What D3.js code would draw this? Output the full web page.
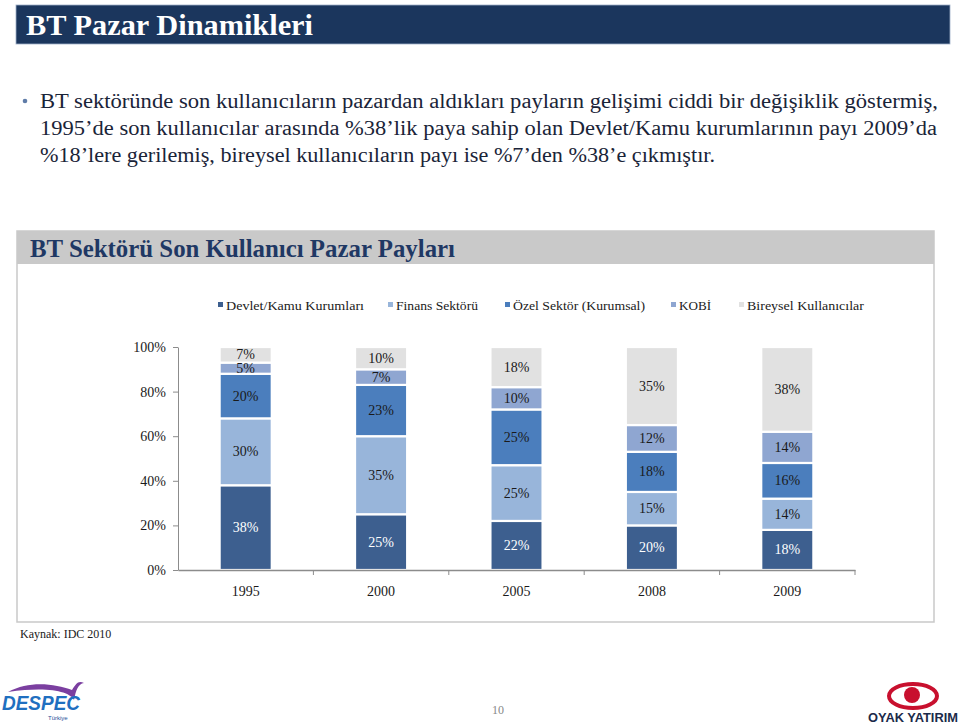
<!DOCTYPE html>
<html>
<head>
<meta charset="utf-8">
<script src="https://cdn.jsdelivr.net/npm/d3@7"></script>
<style>
html,body{margin:0;padding:0;background:#fff;}
svg{display:block;}
text{font-family:"Liberation Serif","Times New Roman",serif;}
text.sans{font-family:"Liberation Sans",Arial,sans-serif;}
</style>
</head>
<body>
<svg id="chart" width="960" height="724"></svg>
<script>
// ---- Data ----
const years = ["1995", "2000", "2005", "2008", "2009"];
const seriesNames = ["Devlet/Kamu Kurumları", "Finans Sektörü", "Özel Sektör (Kurumsal)", "KOBİ", "Bireysel Kullanıcılar"];
const devlet   = [38, 25, 22, 20, 18];
const finans   = [30, 35, 25, 15, 14];
const ozel     = [20, 23, 25, 18, 16];
const kobi     = [5, 7, 10, 12, 14];
const bireysel = [7, 10, 18, 35, 38];
const yTicks = [0, 20, 40, 60, 80, 100];

const pageTitle = "BT Pazar Dinamikleri";
const chartTitle = "BT Sektörü Son Kullanıcı Pazar Payları";
const bulletLines = [
  "BT sektöründe son kullanıcıların pazardan aldıkları payların gelişimi ciddi bir değişiklik göstermiş,",
  "1995’de son kullanıcılar arasında %38’lik paya sahip olan Devlet/Kamu kurumlarının payı 2009’da",
  "%18’lere gerilemiş, bireysel kullanıcıların payı ise %7’den %38’e çıkmıştır."
];
const source = "Kaynak: IDC 2010";

// ---- Styles ----
const colors = ["#3d5f8f", "#98b5da", "#4b7ebd", "#8fa6d1", "#e1e1e1"];
const labelColors = ["#ffffff", "#1a1a1a", "#1a1a1a", "#1a1a1a", "#1a1a1a"];

const svg = d3.select("#chart");

// Title bar
svg.append("rect").attr("x", 16).attr("y", 5).attr("width", 934).attr("height", 39)
  .attr("fill", "#1b365d").attr("stroke", "#9fb0c8").attr("stroke-width", 0.8);
svg.append("text").attr("x", 26).attr("y", 35).text(pageTitle)
  .attr("fill", "#fff").attr("font-size", 29).attr("font-weight", "bold")
  .attr("textLength", 287).attr("lengthAdjust", "spacingAndGlyphs");

// Bullet text
svg.append("circle").attr("cx", 25).attr("cy", 101).attr("r", 2.3).attr("fill", "#5f7ca8");
const bulletWidths = [898, 897, 675];
bulletLines.forEach((t, i) => {
  svg.append("text").attr("x", 40).attr("y", 108 + i * 27).text(t)
    .attr("fill", "#1a2438").attr("font-size", 20)
    .attr("textLength", bulletWidths[i]).attr("lengthAdjust", "spacingAndGlyphs");
});

// Chart box
svg.append("rect").attr("x", 17).attr("y", 231).attr("width", 917).attr("height", 391)
  .attr("fill", "#fff").attr("stroke", "#c9c9c9").attr("stroke-width", 1.5);
svg.append("rect").attr("x", 17).attr("y", 231).attr("width", 917).attr("height", 33)
  .attr("fill", "#c9c9c9");
svg.append("text").attr("x", 30).attr("y", 257).text(chartTitle)
  .attr("fill", "#1f3864").attr("font-size", 25).attr("font-weight", "bold")
  .attr("textLength", 425).attr("lengthAdjust", "spacingAndGlyphs");

// Legend
const legendX = [218, 388, 505, 671, 739];
const legendW = [138, 82, 132, 32, 117];
seriesNames.forEach((n, i) => {
  svg.append("rect").attr("x", legendX[i]).attr("y", 302).attr("width", 5).attr("height", 5).attr("fill", colors[i]);
  svg.append("text").attr("x", legendX[i] + 8).attr("y", 309.5).text(n)
    .attr("font-size", 13).attr("fill", "#1a1a1a")
    .attr("textLength", legendW[i]).attr("lengthAdjust", "spacingAndGlyphs");
});

// Scales
const x = d3.scaleBand().domain(years).range([178, 855]).padding(0);
const y = d3.scaleLinear().domain([0, 100]).range([570, 347]);
const barW = x.bandwidth() * 0.385;

const table = years.map((yr, i) => ({
  year: yr,
  [seriesNames[0]]: devlet[i],
  [seriesNames[1]]: finans[i],
  [seriesNames[2]]: ozel[i],
  [seriesNames[3]]: kobi[i],
  [seriesNames[4]]: bireysel[i]
}));
const stacked = d3.stack().keys(seriesNames)(table);

const g = svg.append("g");
stacked.forEach((layer, si) => {
  const lg = g.append("g");
  lg.selectAll("rect").data(layer).join("rect")
    .attr("x", d => x(d.data.year) + (x.bandwidth() - barW) / 2)
    .attr("y", d => y(d[1]))
    .attr("width", barW)
    .attr("height", d => y(d[0]) - y(d[1]))
    .attr("fill", colors[si])
    .attr("stroke", "#fff").attr("stroke-width", 2.2);
});
stacked.forEach((layer, si) => {
  g.append("g").selectAll("text").data(layer).join("text")
    .attr("x", d => x(d.data.year) + x.bandwidth() / 2)
    .attr("y", d => (y(d[0]) + y(d[1])) / 2 + 4.5)
    .attr("text-anchor", "middle")
    .attr("font-size", 14)
    .attr("fill", labelColors[si])
    .text(d => (d[1] - d[0]) + "%");
});

// Y axis
const yAxis = svg.append("g").attr("transform", "translate(178,0)")
  .call(d3.axisLeft(y).tickValues(yTicks).tickFormat(d => d + "%").tickSize(5).tickSizeOuter(0));
yAxis.select(".domain").attr("stroke", "#8c8c8c");
yAxis.selectAll(".tick line").attr("stroke", "#8c8c8c");
yAxis.selectAll(".tick text").attr("font-size", 14).attr("fill", "#1a1a1a").attr("x", -12);

// X axis
const xAxis = svg.append("g").attr("transform", "translate(0,570)")
  .call(d3.axisBottom(x).tickSize(0).tickSizeOuter(0).tickPadding(16));
xAxis.select(".domain").attr("stroke", "#8c8c8c").attr("stroke-width", 1.5);
xAxis.selectAll(".tick text").attr("font-size", 14).attr("fill", "#1a1a1a");
const bounds = years.map(yr => x(yr)).concat([x(years[years.length - 1]) + x.bandwidth()]);
svg.append("g").selectAll("line").data(bounds.slice(1)).join("line")
  .attr("x1", d => d).attr("x2", d => d).attr("y1", 570).attr("y2", 575)
  .attr("stroke", "#8c8c8c");

// Source
svg.append("text").attr("x", 20).attr("y", 638).text(source).attr("font-size", 12).attr("fill", "#1a1a1a");

// Page number
svg.append("text").attr("x", 498).attr("y", 714).attr("text-anchor", "middle").text("10")
  .attr("font-size", 12).attr("fill", "#888");

// DESPEC logo (approximation)
const dl = svg.append("g");
dl.append("path").attr("d", "M8,692 C30,680 55,684 72,690 C76,684 78,680 84,683 C78,684 76,690 74,700 C70,692 50,686 8,692 Z")
  .attr("fill", "#7b3fa0");
dl.append("text").attr("class", "sans").attr("x", 2).attr("y", 710).text("DESPEC")
  .attr("font-weight", "bold").attr("font-style", "italic")
  .attr("font-size", 20).attr("fill", "#1f6fc0").attr("textLength", 78).attr("lengthAdjust", "spacingAndGlyphs");
dl.append("text").attr("class", "sans").attr("x", 48).attr("y", 720).text("Türkiye")
  .attr("font-size", 6).attr("fill", "#1f4f9a");

// OYAK logo (approximation)
const ol = svg.append("g");
ol.append("ellipse").attr("cx", 913).attr("cy", 696).attr("rx", 24).attr("ry", 12)
  .attr("fill", "none").attr("stroke", "#c8102e").attr("stroke-width", 4);
ol.append("circle").attr("cx", 912).attr("cy", 695).attr("r", 8).attr("fill", "#c8102e");
ol.append("text").attr("class", "sans").attr("x", 913).attr("y", 722).attr("text-anchor", "middle").text("OYAK YATIRIM")
  .attr("font-weight", "bold")
  .attr("font-size", 12).attr("fill", "#1b2a4a").attr("textLength", 90).attr("lengthAdjust", "spacingAndGlyphs");
</script>
</body>
</html>
